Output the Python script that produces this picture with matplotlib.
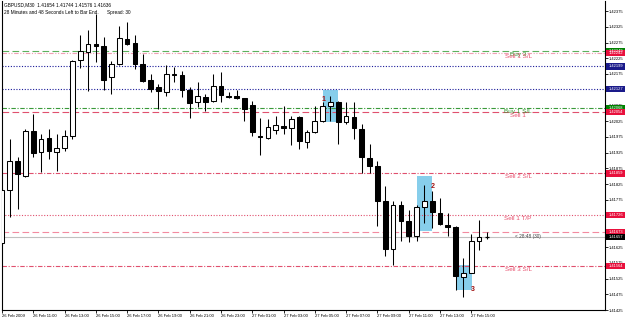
import matplotlib
matplotlib.use("Agg")
import matplotlib.pyplot as plt
from matplotlib.patches import Rectangle
import matplotlib.transforms as mtransforms

plt.rcParams['font.family'] = ['Liberation Sans', 'DejaVu Sans']

# ---------------- data ----------------
opens = [1.41638, 1.41805, 1.41897, 1.41852, 1.41994, 1.41928, 1.41972, 1.41928, 1.41941, 1.41978,
         1.42221, 1.42246, 1.42271, 1.42265, 1.42164, 1.42208, 1.42287, 1.42275, 1.42208, 1.42155,
         1.42133, 1.42117, 1.42171, 1.42171, 1.42123, 1.42086, 1.42101, 1.42089, 1.42136, 1.42104,
         1.42104, 1.42098, 1.42076, 1.41978, 1.41972, 1.41997, 1.42010, 1.42004, 1.42038, 1.41960,
         1.41991, 1.42026, 1.42073, 1.42086, 1.42023, 1.42038, 1.42000, 1.41909, 1.41884, 1.41771,
         1.41619, 1.41758, 1.41708, 1.41660, 1.41752, 1.41771, 1.41733, 1.41695, 1.41689, 1.41531,
         1.41541, 1.41645, 1.41656]
highs = [1.41812, 1.41969, 1.41912, 1.42000, 1.42048, 1.41985, 1.42000, 1.41985, 1.41997, 1.42221,
         1.42300, 1.42316, 1.42366, 1.42293, 1.42215, 1.42328, 1.42341, 1.42300, 1.42237, 1.42174,
         1.42142, 1.42202, 1.42196, 1.42186, 1.42133, 1.42149, 1.42111, 1.42174, 1.42180, 1.42117,
         1.42123, 1.42098, 1.42089, 1.42035, 1.42032, 1.42041, 1.42073, 1.42041, 1.42041, 1.41997,
         1.42073, 1.42086, 1.42104, 1.42089, 1.42086, 1.42086, 1.42016, 1.41953, 1.41900, 1.41818,
         1.41771, 1.41771, 1.41742, 1.41758, 1.41821, 1.41802, 1.41780, 1.41733, 1.41692, 1.41591,
         1.41667, 1.41711, 1.41673]
lows = [1.41632, 1.41720, 1.41745, 1.41849, 1.41912, 1.41865, 1.41906, 1.41868, 1.41931, 1.41969,
        1.42193, 1.42120, 1.42212, 1.42123, 1.42111, 1.42202, 1.42268, 1.42190, 1.42149, 1.42117,
        1.42064, 1.42104, 1.42149, 1.42101, 1.42035, 1.42070, 1.42057, 1.42086, 1.42086, 1.42098,
        1.42095, 1.42026, 1.41978, 1.41919, 1.41969, 1.41985, 1.41985, 1.41950, 1.41938, 1.41941,
        1.41988, 1.42023, 1.42026, 1.41953, 1.42016, 1.41969, 1.41859, 1.41859, 1.41692, 1.41597,
        1.41569, 1.41645, 1.41641, 1.41645, 1.41701, 1.41686, 1.41695, 1.41660, 1.41487, 1.41465,
        1.41541, 1.41616, 1.41651]
closes = [1.41805, 1.41897, 1.41856, 1.41994, 1.41925, 1.41969, 1.41931, 1.41941, 1.41978, 1.42215,
          1.42249, 1.42271, 1.42265, 1.42155, 1.42208, 1.42290, 1.42271, 1.42208, 1.42152, 1.42127,
          1.42120, 1.42174, 1.42174, 1.42123, 1.42082, 1.42104, 1.42086, 1.42136, 1.42108, 1.42101,
          1.42098, 1.42064, 1.41991, 1.41975, 1.42007, 1.42013, 1.42004, 1.42032, 1.41963, 1.41991,
          1.42026, 1.42073, 1.42086, 1.42023, 1.42041, 1.42004, 1.41912, 1.41884, 1.41771, 1.41619,
          1.41758, 1.41708, 1.41660, 1.41752, 1.41771, 1.41736, 1.41698, 1.41689, 1.41534, 1.41541,
          1.41645, 1.41657, 1.41658]

time_labels = ["26 Feb 2009", "26 Feb 11:00", "26 Feb 13:00", "26 Feb 15:00", "26 Feb 17:00",
               "26 Feb 19:00", "26 Feb 21:00", "26 Feb 23:00", "27 Feb 01:00", "27 Feb 03:00",
               "27 Feb 05:00", "27 Feb 07:00", "27 Feb 09:00", "27 Feb 11:00", "27 Feb 13:00",
               "27 Feb 15:00"]
bars_per_label = 4

price_ticks = [1.42375, 1.42325, 1.42275, 1.42225, 1.42175, 1.42125, 1.42075, 1.42025, 1.41975,
               1.41925, 1.41875, 1.41825, 1.41775, 1.41725, 1.41675, 1.41625, 1.41575, 1.41525,
               1.41475, 1.41425]

level_prices = [1.42249, 1.42242, 1.42199, 1.42127, 1.42068, 1.42054, 1.41859, 1.41726, 1.41673, 1.41564]
level_names = ["Buy 3", "Sell 1 S/L", "", "", "Buy 1 S/L", "Sell 1", "Sell 2 S/L", "Sell 1 T/P", "", "Sell 3 S/L"]
bid_price = 1.41657

zone_names = ["1", "2", "3"]
zone_x0 = [41.05, 53.07, 58.2]
zone_x1 = [42.97, 55.0, 60.1]
zone_top = [1.42123, 1.41852, 1.41569]
zone_bottom = [1.42023, 1.41676, 1.41487]

header1 = "GBPUSD,M30  1.41654 1.41744 1.41576 1.41636"
header2 = "28 Minutes and 48 Seconds Left to Bar End.      Spread: 30"
timer_text = "< 28:48 (30)"

# ---------------- styles ----------------
level_colors = ['#5cb05c', '#f0a0b4', '#1a1a9a', '#1a1a9a', '#3a9a3a', '#e0506e', '#e0506e',
                '#e0506e', '#f28aa0', '#e0506e']
level_styles = [(0, (6, 3)), (0, (4, 1.5, 1, 1.5, 1, 1.5)), (0, (1, 1.5)), (0, (1, 1.5)),
                (0, (4, 1.5, 1, 1.5)), (0, (6, 3)), (0, (4, 1.5, 1, 1.5)), (0, (1, 1.5)),
                (0, (6, 3)), (0, (4, 1.5, 1, 1.5))]
level_text_colors = ['#2e9a2e', '#e8506e', None, None, '#2e9a2e', '#e8506e', '#e8506e', '#e8506e',
                     None, '#e8506e']
box_colors = ['#008000', '#e8103c', '#1a1a8a', '#1a1a8a', '#008000', '#e8103c', '#e8103c',
              '#e8103c', '#e8103c', '#e8103c']

W, H = 625, 319
fig = plt.figure(figsize=(W / 100, H / 100), dpi=100)
ax = fig.add_axes([2 / W, 9 / H, 603 / W, 309 / H])
ax.set_xlim(0, 77.1)
ax.set_ylim(1.414335, 1.424069)

# zones
for nm, x0, x1, t, b in zip(zone_names, zone_x0, zone_x1, zone_top, zone_bottom):
    ax.add_patch(Rectangle((x0, b), x1 - x0, t - b, facecolor='#87ceeb', edgecolor='none', zorder=1))

# levels
for p, st, col in zip(level_prices, level_styles, level_colors):
    ax.axhline(p, color=col, lw=0.8, linestyle=st, zorder=2)
ax.axhline(bid_price, color='#c0c0c0', lw=0.8, zorder=2)

# candles
bw = 0.6
for i, (o, h, l, c) in enumerate(zip(opens, highs, lows, closes)):
    ax.vlines(i, l, h, color='#000000', lw=0.75, zorder=3)
    bottom = min(o, c)
    height = abs(c - o)
    fc = 'white' if c >= o else 'black'
    if height < 0.00002:
        ax.hlines((o + c) / 2, i - bw / 2, i + bw / 2, color='black', lw=0.9, zorder=4)
    else:
        ax.add_patch(Rectangle((i - bw / 2, bottom), bw, height, facecolor=fc,
                               edgecolor='black', lw=0.75, zorder=4))

# zone labels
ax.text(zone_x0[0], zone_top[0] - 0.00028, zone_names[0], color='#a01010', fontsize=5,
        fontweight='bold', ha='center', va='center', zorder=5)
ax.text(zone_x1[1] + 0.1, zone_top[1] - 0.00035, zone_names[1], color='#a01010', fontsize=5,
        fontweight='bold', ha='center', va='center', zorder=5)
ax.text(zone_x1[2] + 0.1, zone_bottom[2] + 0.00002, zone_names[2], color='#a01010', fontsize=5,
        fontweight='bold', ha='center', va='center', zorder=5)

# level texts
tr_mix = mtransforms.blended_transform_factory(ax.transAxes, ax.transData)
for p, nm, tc in zip(level_prices, level_names, level_text_colors):
    if nm:
        ax.text(0.856, p - 0.00003, nm, color=tc, fontsize=4.6, ha='center', va='top',
                transform=tr_mix, zorder=5)

ax.text(65.6, bid_price, timer_text, color='#404040', fontsize=3.4, ha='left', va='center', zorder=5)

# right price boxes
box_h = 0.0002
def price_box(p, col):
    ax.add_patch(Rectangle((1.002, p - box_h / 2), 0.031, box_h, transform=tr_mix,
                           facecolor=col, edgecolor='none', clip_on=False, zorder=6))
    ax.text(1.0175, p, "%.5f" % p, color='white', fontsize=2.9, ha='center', va='center',
            transform=tr_mix, clip_on=False, zorder=7)

for p, bc in zip(level_prices, box_colors):
    price_box(p, bc)
price_box(bid_price, 'black')

# header
ax.text(0.004, 0.996, header1, transform=ax.transAxes, fontsize=3.4, ha='left', va='top', zorder=6)
ax.text(0.004, 0.970, header2, transform=ax.transAxes, fontsize=3.4, ha='left', va='top', zorder=6)

# axes
ax.yaxis.tick_right()
ax.set_yticks(price_ticks)
ax.set_yticklabels(["%.5f" % t for t in price_ticks])
ax.set_xticks([k * bars_per_label for k in range(len(time_labels))])
ax.set_xticklabels(time_labels, ha='left')
ax.tick_params(axis='y', labelsize=3.0, length=2, width=0.6, pad=1.0, colors='black')
ax.tick_params(axis='x', labelsize=3.0, length=2, width=0.6, pad=1, colors='black')
ax.spines['top'].set_visible(False)
for s in ['left', 'right', 'bottom']:
    ax.spines[s].set_linewidth(0.8)
    ax.spines[s].set_color('black')

fig.savefig('out.png', dpi=100, facecolor='white')
